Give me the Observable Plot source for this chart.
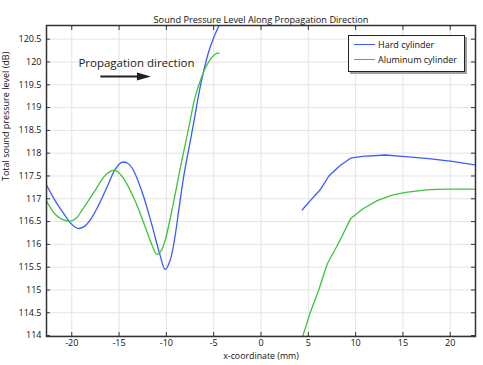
<!DOCTYPE html>
<html><head><meta charset="utf-8">
<script src="https://cdn.jsdelivr.net/npm/d3@7"></script>
<script src="https://cdn.jsdelivr.net/npm/@observablehq/plot@0.6"></script>
<style>
body{margin:0;background:#fff;}
#wrap{position:relative;width:483px;height:365px;}
.legend{position:absolute;left:348px;top:35px;width:115px;height:35px;border:1px solid #222;background:#fff;box-shadow:2px 2px 0 #a0a0a0;font:9px "Open Sans",sans-serif;color:#111;}
.legend .row{position:absolute;left:5px;height:12px;display:flex;align-items:center;white-space:nowrap;}
.legend .sw{width:21px;height:0;border-top:1.3px solid;margin-right:3px;}
</style></head><body><div id="wrap"></div>
<script>
const title = "Sound Pressure Level Along Propagation Direction";
const xLabel = "x-coordinate (mm)";
const yLabel = "Total sound pressure level (dB)";
const seriesNames = ["Hard cylinder", "Aluminum cylinder"];
const seriesColors = ["#3b5bff", "#3cc43c"];
const xTicks = [-20, -15, -10, -5, 0, 5, 10, 15, 20];
const yTicks = [114, 114.5, 115, 115.5, 116, 116.5, 117, 117.5, 118, 118.5, 119, 119.5, 120, 120.5];
const xDomain = [-22.67, 22.67];
const yDomain = [113.98, 120.8];

// Hard cylinder (blue)
const hardLeft = [[-22.67,117.30],[-21.76,116.96],[-20.7,116.63],[-20.0,116.44],[-19.35,116.35],[-18.7,116.39],[-18.0,116.55],[-17.19,116.85],[-16.14,117.32],[-15.4,117.65],[-14.73,117.80],[-14.1,117.78],[-13.6,117.67],[-12.62,117.18],[-11.56,116.45],[-10.69,115.78],[-10.13,115.45],[-9.65,115.62],[-9.17,116.07],[-8.65,116.81],[-8.12,117.55],[-7.49,118.25],[-7.07,118.72],[-6.43,119.45],[-5.59,120.18],[-4.95,120.56],[-4.43,120.8],[-4.2,120.92]];
const hardRight = [[4.37,116.76],[5.3,116.98],[6.3,117.21],[7.17,117.50],[8.3,117.72],[9.46,117.89],[10.7,117.93],[13.15,117.96],[14.92,117.93],[17.72,117.88],[20.19,117.82],[22.67,117.74]];
// Aluminum cylinder (green)
const aluLeft = [[-22.67,116.95],[-21.76,116.66],[-21.0,116.55],[-20.2,116.51],[-19.5,116.58],[-18.95,116.74],[-18.2,116.97],[-17.54,117.18],[-16.6,117.48],[-15.78,117.62],[-15.2,117.6],[-14.38,117.40],[-13.32,116.96],[-12.09,116.30],[-11.45,115.95],[-11.0,115.78],[-10.58,115.85],[-10.16,116.07],[-9.35,116.81],[-8.65,117.55],[-8.05,118.15],[-7.5,118.7],[-7.0,119.2],[-6.4,119.6],[-5.8,119.9],[-5.2,120.1],[-4.7,120.19],[-4.43,120.19]];
const aluRight = [[4.37,113.96],[5.2,114.5],[6.12,115.01],[7.0,115.57],[8.23,116.04],[9.46,116.56],[10.7,116.77],[12.28,116.96],[13.86,117.08],[15.27,117.14],[17.72,117.20],[19.83,117.21],[22.67,117.21]];

// Annotation (data units)
const annotText = ["Propagation direction"];
const annotTextPos = [-19.3, 119.98];
const arrowFrom = [-16.98, 119.68];
const arrowTo = [-11.63, 119.68];

const arrowHead = {draw(ctx) { ctx.moveTo(0, 0); ctx.lineTo(-14, -4); ctx.lineTo(-14, 4); ctx.closePath(); }};
const X = d => d[0], Y = d => d[1];
const ink = "#333";

const chart = Plot.plot({
  width: 483, height: 365,
  marginLeft: 46, marginRight: 8, marginTop: 25, marginBottom: 29,
  style: {fontFamily: "'Open Sans', sans-serif", fontSize: "9px", color: "#111", background: "#fff"},
  x: {domain: xDomain, label: null},
  y: {domain: yDomain, label: null},
  marks: [
    Plot.gridX(xTicks, {stroke: "#e4e4e4", strokeOpacity: 1}),
    Plot.gridY(yTicks, {stroke: "#e4e4e4", strokeOpacity: 1}),
    Plot.line(hardLeft, {x: X, y: Y, stroke: seriesColors[0], strokeWidth: 1.3, curve: "catmull-rom", clip: true}),
    Plot.line(hardRight, {x: X, y: Y, stroke: seriesColors[0], strokeWidth: 1.3, clip: true}),
    Plot.line(aluLeft, {x: X, y: Y, stroke: seriesColors[1], strokeWidth: 1.3, curve: "catmull-rom", clip: true}),
    Plot.line(aluRight, {x: X, y: Y, stroke: seriesColors[1], strokeWidth: 1.3, clip: true}),
    Plot.link([0], {x1: () => arrowFrom[0], y1: () => arrowFrom[1], x2: () => arrowTo[0] - 0.8, y2: () => arrowTo[1], stroke: "#222", strokeWidth: 2}),
    Plot.dot([0], {x: () => arrowTo[0], y: () => arrowTo[1], symbol: arrowHead, fill: "#222", stroke: "none"}),
    Plot.text(annotText, {x: () => annotTextPos[0], y: () => annotTextPos[1], text: d => d, textAnchor: "start", fontSize: 11.5, fill: "#222"}),
    Plot.tickX(xTicks, {x: d => d, insetTop: 307, stroke: ink}),
    Plot.tickX(xTicks, {x: d => d, insetBottom: 306, stroke: ink}),
    Plot.tickY(yTicks, {y: d => d, insetRight: 425, stroke: ink}),
    Plot.tickY(yTicks, {y: d => d, insetLeft: 425, stroke: ink}),
    Plot.axisX(xTicks, {tickSize: 0, tickPadding: 3, label: null, tickFormat: d => String(d)}),
    Plot.axisY(yTicks, {tickSize: 0, tickPadding: 5, label: null, tickFormat: d => String(d)}),
    Plot.frame({stroke: ink, strokeWidth: 1.5}),
    Plot.text([title], {frameAnchor: "top", dy: -9, fontSize: 9.2}),
    Plot.text([xLabel], {frameAnchor: "bottom", dy: 22, fontSize: 8.8}),
    Plot.text([yLabel], {frameAnchor: "left", dx: -40, rotate: -90, fontSize: 9})
  ]
});
const wrap = document.getElementById("wrap");
wrap.appendChild(chart);
const leg = document.createElement("div");
leg.className = "legend";
seriesNames.forEach((name, i) => {
  const row = document.createElement("div");
  row.className = "row";
  row.style.top = (2 + i * 15.7) + "px";
  const sw = document.createElement("span");
  sw.className = "sw";
  sw.style.borderColor = seriesColors[i];
  const t = document.createElement("span");
  t.textContent = name;
  row.appendChild(sw); row.appendChild(t);
  leg.appendChild(row);
});
wrap.appendChild(leg);
</script></body></html>
